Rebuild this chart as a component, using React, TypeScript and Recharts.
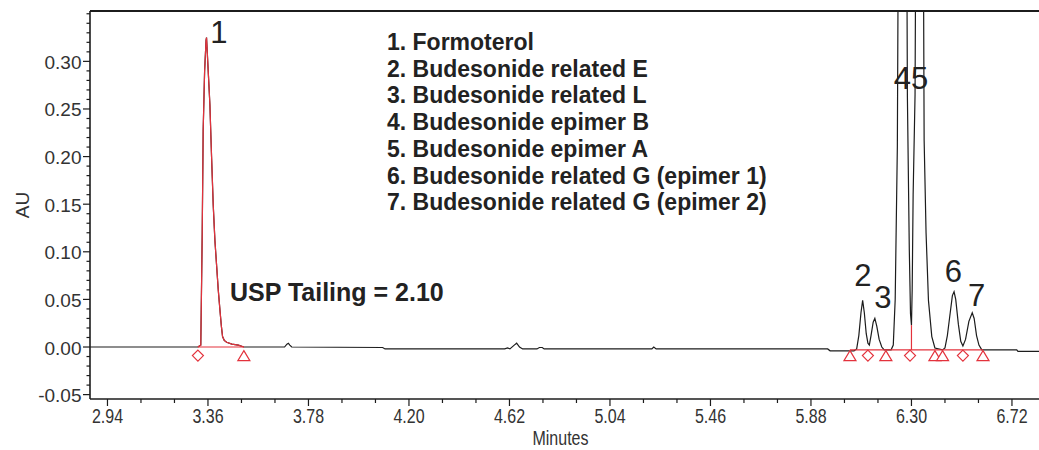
import React from "react";
import {
  ComposedChart,
  Line,
  XAxis,
  YAxis,
  ReferenceDot,
  ReferenceLine,
} from "recharts";

// axis ranges (minutes / AU)
const X_MIN = 2.867;
const X_MAX = 6.833;
const Y_MIN = -0.0546;
const Y_MAX = 0.3529;

const xLabels = ["2.94", "3.36", "3.78", "4.20", "4.62", "5.04", "5.46", "5.88", "6.30", "6.72"];
const xTicks = [
  2.94, 3.08, 3.22, 3.36, 3.5, 3.64, 3.78, 3.92, 4.06, 4.2, 4.34, 4.48, 4.62, 4.76,
  4.9, 5.04, 5.18, 5.32, 5.46, 5.6, 5.74, 5.88, 6.02, 6.16, 6.3, 6.44, 6.58, 6.72,
];
const yLabels = ["-0.05", "0.00", "0.05", "0.10", "0.15", "0.20", "0.25", "0.30"];
const yTicks = [
  -0.05, -0.04, -0.03, -0.02, -0.01, 0, 0.01, 0.02, 0.03, 0.04, 0.05, 0.06, 0.07,
  0.08, 0.09, 0.1, 0.11, 0.12, 0.13, 0.14, 0.15, 0.16, 0.17, 0.18, 0.19, 0.2, 0.21,
  0.22, 0.23, 0.24, 0.25, 0.26, 0.27, 0.28, 0.29, 0.3, 0.31, 0.32, 0.33, 0.34, 0.35,
];

// detector trace [minutes, AU]
const tracePts: [number, number][] = [
  [2.867, 0.0], [3.1, 0.0], [3.318, 0.0], [3.33, 0.002], [3.336, 0.12], [3.34, 0.228],
  [3.346, 0.29], [3.352, 0.322], [3.354, 0.325], [3.357, 0.31], [3.362, 0.285],
  [3.368, 0.255], [3.375, 0.2], [3.382, 0.149], [3.389, 0.112], [3.396, 0.086],
  [3.403, 0.06], [3.41, 0.039], [3.416, 0.022], [3.421, 0.011], [3.428, 0.007],
  [3.438, 0.005], [3.46, 0.003], [3.487, 0.002], [3.51, 0.0], [3.68, 0.0],
  [3.69, 0.003], [3.696, 0.004], [3.702, 0.002], [3.71, 0.0], [4.09, -0.0005],
  [4.1, -0.002], [4.4, -0.002], [4.6, -0.002], [4.612, -0.001], [4.622, -0.002],
  [4.64, 0.002], [4.65, 0.004], [4.662, 0.0], [4.675, -0.002], [4.735, -0.002],
  [4.745, -0.0005], [4.757, -0.0005], [4.765, -0.002], [5.215, -0.002], [5.223, 0.0],
  [5.233, -0.002], [5.95, -0.002], [5.96, -0.004], [6.06, -0.004], [6.071, -0.002],
  [6.08, 0.012], [6.089, 0.036], [6.096, 0.049], [6.103, 0.036], [6.111, 0.014],
  [6.118, 0.004], [6.124, 0.002], [6.131, 0.012], [6.14, 0.026], [6.147, 0.03],
  [6.155, 0.022], [6.165, 0.008], [6.176, 0.0], [6.186, -0.003], [6.215, -0.003],
  [6.224, 0.002], [6.232, 0.05], [6.241, 0.21], [6.264, 1.5], [6.283, 0.263],
  [6.291, 0.102], [6.296, 0.035], [6.3, 0.023], [6.303, 0.06], [6.307, 0.16],
  [6.315, 0.265], [6.335, 1.4], [6.353, 0.217], [6.361, 0.12], [6.371, 0.049],
  [6.385, 0.011], [6.398, -0.001], [6.43, -0.003], [6.44, -0.001], [6.45, 0.012],
  [6.46, 0.032], [6.471, 0.054], [6.478, 0.058], [6.485, 0.05], [6.496, 0.024],
  [6.506, 0.006], [6.515, 0.001], [6.526, 0.008], [6.54, 0.027], [6.554, 0.036],
  [6.562, 0.03], [6.572, 0.012], [6.582, 0.002], [6.594, -0.003], [6.74, -0.003],
  [6.745, -0.0045], [6.833, -0.0045],
];

// integration marks
const peak1Range = [3.318, 3.51];
const groupBaseline = [6.043, 6.599];
const dropLineT = 6.3;
const dropLineTop = 0.023;
const baselineLevel = -0.003;
const markerLevel = -0.009;
const diamonds = [3.318, 6.118, 6.294, 6.515];
const triangles = [3.51, 6.043, 6.193, 6.398, 6.43, 6.599];

const peakLabels = [
  { text: "1", t: 3.406, v: 0.33 },
  { text: "2", t: 6.097, v: 0.0756 },
  { text: "3", t: 6.181, v: 0.052 },
  { text: "45", t: 6.298, v: 0.282 },
  { text: "6", t: 6.475, v: 0.079 },
  { text: "7", t: 6.572, v: 0.054 },
];

const compounds = [
  "1. Formoterol",
  "2. Budesonide related E",
  "3. Budesonide related L",
  "4. Budesonide epimer B",
  "5. Budesonide epimer A",
  "6. Budesonide related G (epimer 1)",
  "7. Budesonide related G (epimer 2)",
];
const tailingNote = "USP Tailing = 2.10";

const RED = "#e3323c";
const INK = "#1c1c1c";
const SANS = "'Liberation Sans', Arial, sans-serif";

const trace = tracePts.map(([t, v]) => ({ t, v }));
const peak1 = [
  { t: peak1Range[0], v: 0 },
  ...trace.filter((p) => p.t > peak1Range[0] && p.t < peak1Range[1]),
  { t: peak1Range[1], v: 0 },
];
const peak1Base = peak1Range.map((t) => ({ t, v: 0 }));
const groupBase = groupBaseline.map((t) => ({ t, v: baselineLevel }));
const dropLine = [
  { t: dropLineT, v: baselineLevel },
  { t: dropLineT, v: dropLineTop },
];

// condensed text, like the narrow font of the original x axis
const NarrowText = ({ x, y, children }: any) => (
  <text transform={`translate(${x},${y}) scale(0.8,1)`} textAnchor="middle"
    dominantBaseline="central" fontFamily={SANS} fontSize={20} fill="#333">
    {children}
  </text>
);

function XTick(props: any) {
  const { x, y, payload } = props;
  const label = xLabels.find((l) => Math.abs(parseFloat(l) - payload.value) < 1e-6);
  return (
    <g>
      <line x1={x} x2={x} y1={y} y2={y + (label ? 7 : 4)} stroke={INK} strokeWidth={1.2} />
      {label && <NarrowText x={x} y={y + 17}>{label}</NarrowText>}
    </g>
  );
}

function YTick(props: any) {
  const { x, y, payload } = props;
  const label = yLabels.find((l) => Math.abs(parseFloat(l) - payload.value) < 1e-6);
  return (
    <g>
      <line x1={x - (label ? 7 : 3.5)} x2={x} y1={y} y2={y} stroke={INK} strokeWidth={1.2} />
      {label && (
        <text x={x - 8.5} y={y + 1} textAnchor="end" dominantBaseline="central"
          fontFamily={SANS} fontSize={19} fill="#333">
          {label}
        </text>
      )}
    </g>
  );
}

const XTitle = (props: any) => {
  const { viewBox } = props;
  return <NarrowText x={viewBox.x + viewBox.width / 2 - 4} y={viewBox.y + 39}>Minutes</NarrowText>;
};

const YTitle = (props: any) => {
  const { viewBox } = props;
  const cx = viewBox.x - 8;
  const cy = viewBox.y + viewBox.height / 2;
  return (
    <text x={cx} y={cy} transform={`rotate(-90 ${cx} ${cy})`} textAnchor="middle"
      dominantBaseline="central" fontFamily={SANS} fontSize={19} fill="#333">
      AU
    </text>
  );
};

const Diamond = ({ cx, cy }: any) => (
  <polygon points={`${cx},${cy - 5.5} ${cx + 5.5},${cy} ${cx},${cy + 5.5} ${cx - 5.5},${cy}`}
    fill="#fff" stroke={RED} strokeWidth={1.2} />
);

const Triangle = ({ cx, cy }: any) => (
  <polygon points={`${cx},${cy - 5} ${cx + 6},${cy + 5} ${cx - 6},${cy + 5}`}
    fill="#fff" stroke={RED} strokeWidth={1.2} />
);

export default function App() {
  return (
    <div style={{ position: "relative", width: 1039, height: 450, background: "#fff", overflow: "hidden" }}>
      <style>{"body{margin:0}"}</style>
      <ComposedChart width={1039} height={450} margin={{ top: 11, right: 0, bottom: 0, left: 30 }}>
        <XAxis type="number" dataKey="t" domain={[X_MIN, X_MAX]} allowDataOverflow
          ticks={xTicks} interval={0} tick={<XTick />} tickLine={false} tickSize={0}
          tickMargin={0} height={51} stroke={INK} strokeWidth={1.6} label={<XTitle />} />
        <YAxis type="number" dataKey="v" domain={[Y_MIN, Y_MAX]} allowDataOverflow
          ticks={yTicks} interval={0} tick={<YTick />} tickLine={false} tickSize={0}
          tickMargin={0} width={60} stroke={INK} strokeWidth={1.6} label={<YTitle />} />
        <ReferenceLine y={Y_MAX} stroke={INK} strokeWidth={1.8} ifOverflow="visible" />

        <Line data={trace} dataKey="v" type="linear" stroke={INK} strokeWidth={1.2}
          dot={false} isAnimationActive={false} />
        <Line data={peak1} dataKey="v" type="linear" stroke={RED} strokeWidth={1.2}
          dot={false} isAnimationActive={false} />
        <Line data={peak1Base} dataKey="v" type="linear" stroke={RED} strokeWidth={1.2}
          dot={false} isAnimationActive={false} />
        <Line data={groupBase} dataKey="v" type="linear" stroke={RED} strokeWidth={1.2}
          dot={false} isAnimationActive={false} />
        <Line data={dropLine} dataKey="v" type="linear" stroke={RED} strokeWidth={1.2}
          dot={false} isAnimationActive={false} />

        {diamonds.map((t) => (
          <ReferenceDot key={`d${t}`} x={t} y={markerLevel} shape={(p: any) => <Diamond {...p} />} />
        ))}
        {triangles.map((t) => (
          <ReferenceDot key={`t${t}`} x={t} y={markerLevel} shape={(p: any) => <Triangle {...p} />} />
        ))}
        {peakLabels.map((l) => (
          <ReferenceDot key={l.text} x={l.t} y={l.v} ifOverflow="visible"
            shape={(p: any) => (
              <text x={p.cx} y={p.cy} textAnchor="middle" dominantBaseline="central"
                fontFamily={SANS} fontSize={31} fill="#222">
                {l.text}
              </text>
            )} />
        ))}
      </ComposedChart>

      <div style={{ position: "absolute", left: 387, top: 29, fontFamily: SANS, fontSize: 23,
        fontWeight: "bold", lineHeight: "26.7px", color: "#222", whiteSpace: "nowrap" }}>
        {compounds.map((c) => (
          <div key={c}>{c}</div>
        ))}
      </div>
      <div style={{ position: "absolute", left: 230, top: 279.5, fontFamily: SANS, fontSize: 25,
        fontWeight: "bold", lineHeight: "25px", color: "#222", whiteSpace: "nowrap" }}>
        {tailingNote}
      </div>
    </div>
  );
}
